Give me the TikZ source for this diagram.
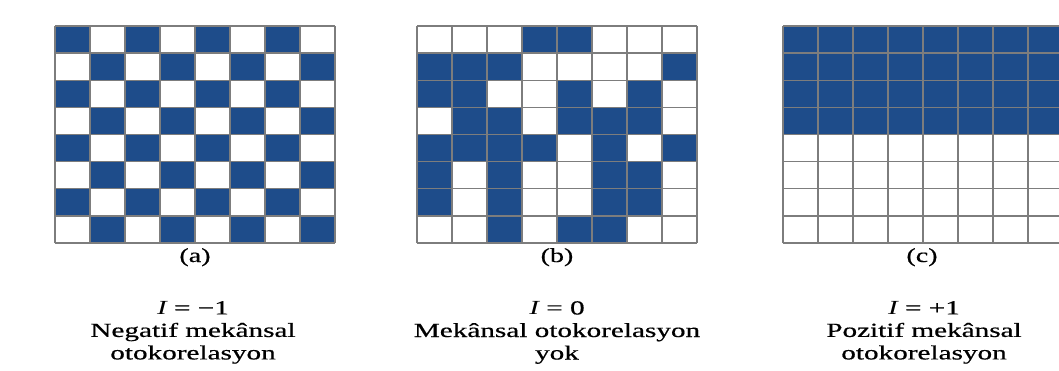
\documentclass[tikz,border=0pt]{standalone}
\usepackage{fontspec}
\setmainfont{Liberation Serif}
\newfontfamily\capfont{Liberation Serif}[BoldFont={Liberation Serif},BoldFeatures={FakeBold=0.5}]
\definecolor{cellblue}{RGB}{30,76,138}
\definecolor{gridgray}{RGB}{125,125,125}
\begin{document}
\begin{tikzpicture}[x=1pt,y=1pt,
  cell/.style={fill=cellblue},
  gridline/.style={draw=gridgray,line width=1.3pt},
  caption/.style={font=\fontsize{20}{22.5}\selectfont\capfont\bfseries, xscale=1.46, transform shape, inner sep=0pt, align=center, anchor=north},
  panel/.style={font=\fontsize{20}{22.5}\selectfont\capfont\bfseries, xscale=1.4, transform shape, inner sep=0pt, anchor=base}]
\useasboundingbox (0,0) rectangle (1059,370);
\clip (0,0) rectangle (1059,370);
\fill[white] (0,0) rectangle (1059,370);
% grid (a): checkerboard
\begin{scope}[shift={(55,127)}]
  \foreach \r in {1,...,8} \foreach \c in {1,...,8} {
    \pgfmathtruncatemacro\p{mod(\r+\c,2)}
    \ifnum\p=0 \fill[cell] ({(\c-1)*35},{217-\r*27.125}) rectangle +(35,27.125); \fi
  }
  \draw[gridline] (0,0) grid[xstep=35,ystep=27.125] (280,217);
\end{scope}
% grid (b): random
\begin{scope}[shift={(417,127)}]
  \foreach \r/\c in {1/4,1/5, 2/1,2/2,2/3,2/8, 3/1,3/2,3/5,3/7, 4/2,4/3,4/5,4/6,4/7,
                     5/1,5/2,5/3,5/4,5/6,5/8, 6/1,6/3,6/6,6/7, 7/1,7/3,7/6,7/7, 8/3,8/5,8/6}
    \fill[cell] ({(\c-1)*35},{217-\r*27.125}) rectangle +(35,27.125);
  \draw[gridline] (0,0) grid[xstep=35,ystep=27.125] (280,217);
\end{scope}
% grid (c): clustered
\begin{scope}[shift={(783,127)}]
  \fill[cell] (0,108.5) rectangle (280,217);
  \draw[gridline] (0,0) grid[xstep=35,ystep=27.125] (280,217);
\end{scope}
% panel letters
\node[panel] (la) at (195,108) {(a)};
\node[panel] (lb) at (557,108) {(b)};
\node[panel] (lc) at (922,108) {(c)};
% captions
\node[caption] (ca) at (193,69) {{\itshape I} = −1\\Negatif mekânsal\\otokorelasyon};
\node[caption] (cb) at (557,69) {{\itshape I} = 0\\Mekânsal otokorelasyon\\yok};
\node[caption] (cc) at (924,69) {{\itshape I} = +1\\Pozitif mekânsal\\otokorelasyon};
\end{tikzpicture}
\end{document}
